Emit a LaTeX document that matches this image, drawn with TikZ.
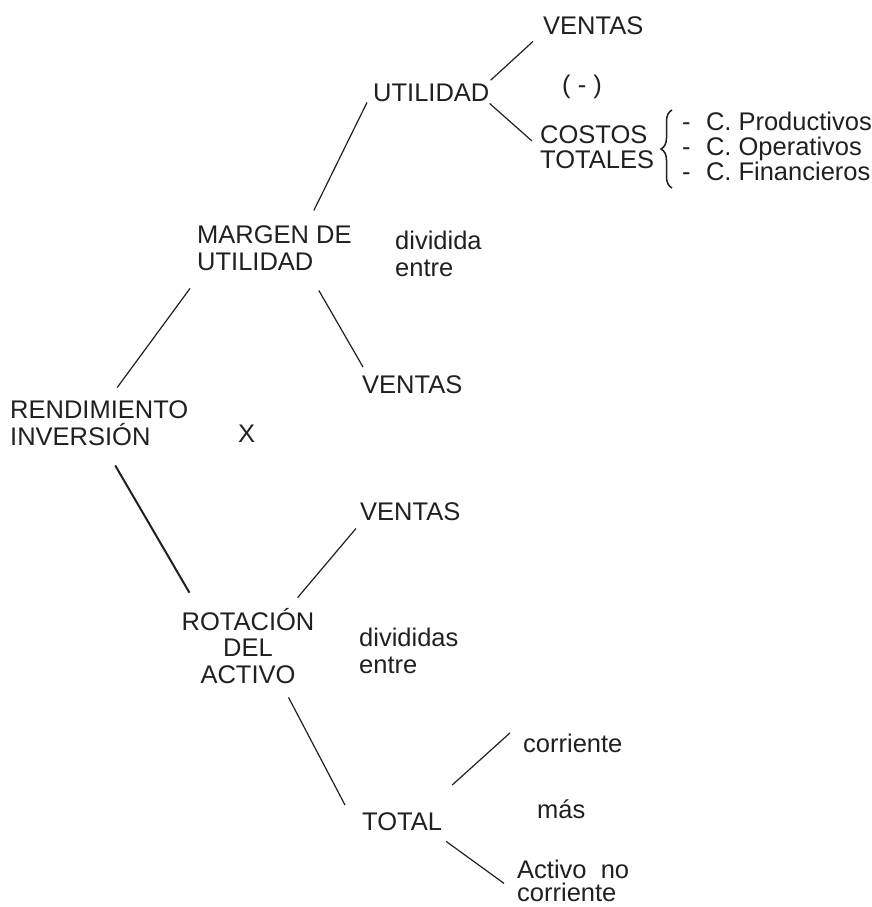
\documentclass[tikz,border=0pt]{standalone}
\usepackage{fontspec}
\setmainfont{Liberation Sans}
\usetikzlibrary{calc,decorations.pathreplacing}
\definecolor{ink}{HTML}{231F20}
\tikzset{lbl/.style={inner sep=0pt,anchor=base west,align=left,text=ink},
rama/.style={line width=1.2pt,draw=ink}}
\begin{document}
\begin{tikzpicture}[x=1pt,y=-1pt,font=\fontsize{25.5}{26.5}\selectfont]
\useasboundingbox (0,0) rectangle (872,907);
\node[lbl](ventasA) at (543,35){VENTAS};
\node[lbl](menos) at (562,93){( - )};
\node[lbl](util) at (373,101){UTILIDAD};
\node[lbl,font=\fontsize{25.5}{25}\selectfont](costos) at (540,168){COSTOS\\TOTALES};
\node[lbl,font=\fontsize{25.5}{25}\selectfont](items) at (682,180){-\hspace{0.6em}C. Productivos\\-\hspace{0.6em}C. Operativos\\-\hspace{0.6em}C. Financieros};
\node[lbl](margen) at (197,270){MARGEN DE\\UTILIDAD};
\node[lbl](divA) at (395,276){dividida\\entre};
\node[lbl](ventasB) at (362,393){VENTAS};
\node[lbl](rend) at (10,445){RENDIMIENTO\\INVERSIÓN};
\node[lbl](por) at (238,442){X};
\node[lbl](ventasC) at (360,520){VENTAS};
\node[lbl,anchor=base,align=center](rot) at (248,683){ROTACIÓN\\DEL\\ACTIVO};
\node[lbl](divB) at (359,673){divididas\\entre};
\node[lbl](corr) at (523,752){corriente};
\node[lbl](mas) at (537,818){más};
\node[lbl](total) at (362,830){TOTAL};
\node[lbl,font=\fontsize{25.5}{23}\selectfont](noCorr) at (517,901){Activo~~no\\corriente};
\draw[rama,line width=1.5pt,decorate,decoration={brace,amplitude=11pt}] (672,188) -- (672,110);
\draw[rama] ($(util.north east)+(1,-3)$) -- ($(ventasA.south west)+(-10,6)$);
\draw[rama] ($(util.south east)+(0,2)$) -- ($(costos.north west)+(-8,16)$);
\draw[rama] ($(util.south west)+(-6,1)$) -- ($(margen.north east)+(-38,-15)$);
\draw[rama] ($(margen.south west)+(-7,18)$) -- ($(rend.north)+(18,-13)$);
\draw[rama] ($(margen.south east)+(-33,20)$) -- ($(ventasB.north west)+(1,-8)$);
\draw[rama,line width=2pt] ($(rend.south)+(16,20)$) -- ($(rot.north west)+(8,-15)$);
\draw[rama] ($(rot.north east)+(-17,-10)$) -- ($(ventasC.south west)+(-4,8)$);
\draw[rama] ($(rot.south east)+(-26,14)$) -- ($(total.north west)+(-17,-7)$);
\draw[rama] ($(total.north east)+(10,-27)$) -- ($(corr.west)+(-13,-10)$);
\draw[rama] ($(total.south east)+(4,11)$) -- ($(noCorr.west)+(-13,3)$);
\end{tikzpicture}
\end{document}
